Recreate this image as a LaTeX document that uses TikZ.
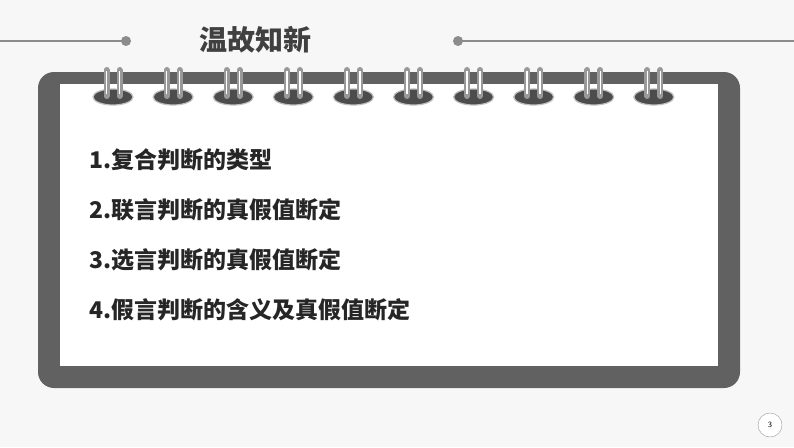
\documentclass[tikz,border=0pt]{standalone}
\usepackage{fontspec}
\newfontfamily\cjk{Noto Sans CJK SC}
\begin{document}
\begin{tikzpicture}[x=1pt,y=-1pt,
  item/.style={anchor=west,font=\cjk\bfseries\fontsize{23}{26}\selectfont,text=black!85},
  hole/.style={fill=black!70,draw=black!25,line width=1.2pt},
  wire/.style={line width=6pt,line cap=round,draw=black!40}]
\fill[black!3] (0,0) rectangle (794,447);
\useasboundingbox (0,0) rectangle (794,447);
\draw[black!45,line width=2pt] (0,41) -- (126,41);
\fill[black!45] (126,41) circle (5);
\draw[black!45,line width=2pt] (458,41) -- (794,41);
\fill[black!45] (458,41) circle (5);
\node[font=\cjk\bfseries\fontsize{28}{32}\selectfont,text=black!75] (title) at (255,40) {温故知新};
\fill[black!62,rounded corners=16pt] (38,72) rectangle (740,388);
\fill[white] (60,84) rectangle (718,366);
\foreach \i in {0,...,9}{
  \pgfmathsetmacro{\cx}{113+60.1*\i}
  \fill[hole] (\cx,97) ellipse (20 and 8);
  \draw[wire] (\cx-6.5,70) -- (\cx-6.5,96);
  \draw[wire] (\cx+6.5,70) -- (\cx+6.5,96);
  \draw[white,line width=1.5pt] (\cx-6.5,71) -- (\cx-6.5,94);
  \draw[white,line width=1.5pt] (\cx+6.5,71) -- (\cx+6.5,94);
}
\node[item] (a) at (86,160) {1.复合判断的类型};
\node[item] (b) at (86,210) {2.联言判断的真假值断定};
\node[item] (c) at (86,260) {3.选言判断的真假值断定};
\node[item] (d) at (86,310) {4.假言判断的含义及真假值断定};
\draw[black!40,fill=white] (770,425) circle (12);
\node[font=\sffamily\fontsize{8}{9}\selectfont] (p) at (770,425) {3};
\end{tikzpicture}
\end{document}
